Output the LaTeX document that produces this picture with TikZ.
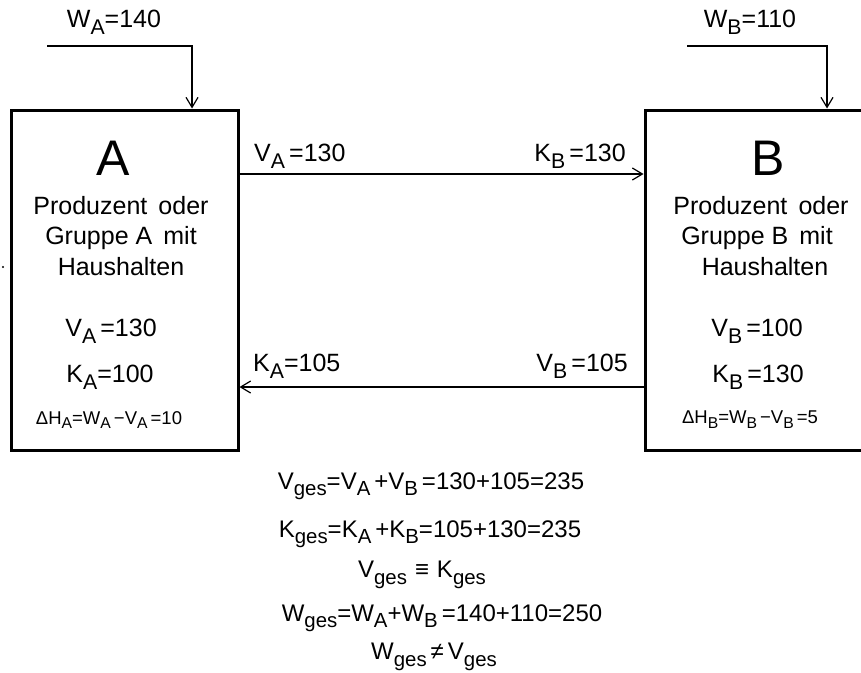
\documentclass[tikz,border=0pt]{standalone}
\usepackage{fontspec}
\setmainfont{Liberation Sans}
\usetikzlibrary{arrows.meta, positioning}
\newcommand\idx[1]{\raisebox{-0.5ex}{\scalebox{0.85}{#1}}}

\tikzset{
  unitbox/.style = {draw, line width=3pt, inner sep=0pt},
  flow/.style    = {line width=1.2pt, -{Straight Barb[length=10pt, width=12pt, line width=1.2pt]}},
  lbl/.style     = {inner sep=0pt, font=\fontsize{25}{29}\selectfont},
  big/.style     = {inner sep=0pt, font=\fontsize{50}{54}\selectfont},
  small/.style   = {inner sep=0pt, font=\fontsize{18.5}{22}\selectfont},
  eq/.style      = {inner sep=0pt, font=\fontsize{24}{28}\selectfont}
}

\begin{document}
\begin{tikzpicture}[x=1pt, y=-1pt]
  \useasboundingbox (0,0) rectangle (861,672);

  \node[unitbox, minimum width=227pt, minimum height=340pt] (A) at (124.5,280) {};
  \node[unitbox, minimum width=235pt, minimum height=340pt] (B) at (762.5,280) {};

  % inflows W
  \coordinate (wa) at (47,46);
  \coordinate (wb) at (687,46);
  \draw[flow] (wa) -| ([xshift=67.5pt]A.north);
  \draw[flow] (wb) -| ([xshift=64.5pt]B.north);
  \node[lbl] (lwa) at (114,22) {W\idx{A}=140};
  \node[lbl] (lwb) at (750,22) {W\idx{B}=110};

  % flows between A and B
  \coordinate (top) at (0,174);
  \coordinate (bot) at (0,387);
  \draw[flow] (A.east |- top) -- (B.west |- top);
  \draw[flow] (B.west |- bot) -- (A.east |- bot);
  \node[lbl, anchor=west] (lva) at (254,156) {V\idx{A}\,=130};
  \node[lbl, anchor=east] (lkb) at (626,156) {K\idx{B}\,=130};
  \node[lbl, anchor=west] (lka) at (253,366) {K\idx{A}=105};
  \node[lbl, anchor=east] (lvb) at (628,366) {V\idx{B}\,=105};

  % box A
  \node[big] (na) at (113,158) {A};
  \node[lbl] (pa1) at (121,206) {Produzent\, oder};
  \node[lbl] (pa2) at (121,238) {Gruppe A\, mit};
  \node[lbl] (pa3) at (121,267) {Haushalten};
  \node[lbl] (va) at (111,331) {V\idx{A}\,=130};
  \node[lbl] (ka) at (110,377) {K\idx{A}=100};
  \node[small] (ha) at (109,420) {ΔH\idx{A}=W\idx{A}\,−V\idx{A}\,=10};

  % box B
  \node[big] (nb) at (768,158) {B};
  \node[lbl] (pb1) at (761,206) {Produzent\, oder};
  \node[lbl] (pb2) at (757,238) {Gruppe B\, mit};
  \node[lbl] (pb3) at (765,267) {Haushalten};
  \node[lbl] (vb) at (757,331) {V\idx{B}\,=100};
  \node[lbl] (kb) at (758,377) {K\idx{B}\,=130};
  \node[small] (hb) at (750,420) {ΔH\idx{B}=W\idx{B}\,−V\idx{B}\,=5};

  % totals
  \node[eq] (e1) at (431,486) {V\idx{ges}=V\idx{A}\,+V\idx{B}\,=130+105=235};
  \node[eq] (e2) at (430,534) {K\idx{ges}=K\idx{A}\,+K\idx{B}=105+130=235};
  \node[eq] (e3) at (422,575) {V\idx{ges}\,\,≡\,\,K\idx{ges}};
  \node[eq] (e4) at (442,618) {W\idx{ges}=W\idx{A}+W\idx{B}\,=140+110=250};
  \node[eq] (e5) at (434,657) {W\idx{ges}\,≠\,V\idx{ges}};

  \fill (3,267) circle (1.2pt);
\end{tikzpicture}
\end{document}
